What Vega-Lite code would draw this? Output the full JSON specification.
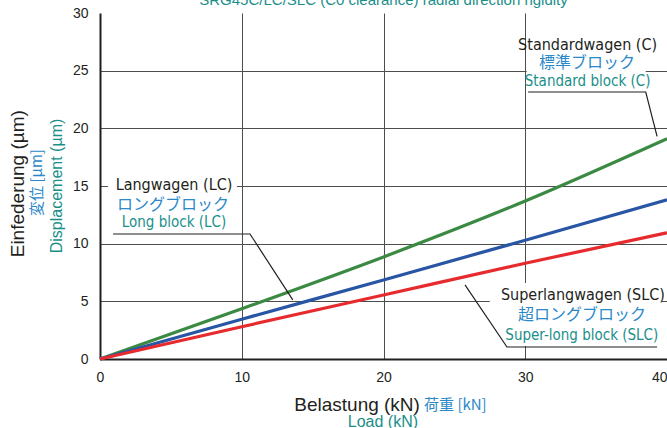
{
  "$schema": "https://vega.github.io/schema/vega-lite/v6.json",
  "width": 567,
  "height": 346,
  "autosize": "none",
  "padding": {"left": 100, "top": 13, "right": 0, "bottom": 69},
  "background": "white",
  "config": {"view": {"stroke": null}, "font": "Liberation Sans"},
  "datasets": {
    "curves": [
      {"load": 0, "disp": 0, "block": "C"},
      {"load": 10, "disp": 4.35, "block": "C"},
      {"load": 20, "disp": 8.85, "block": "C"},
      {"load": 30, "disp": 13.7, "block": "C"},
      {"load": 40, "disp": 19.1, "block": "C"},
      {"load": 0, "disp": 0, "block": "LC"},
      {"load": 10, "disp": 3.45, "block": "LC"},
      {"load": 20, "disp": 6.85, "block": "LC"},
      {"load": 30, "disp": 10.3, "block": "LC"},
      {"load": 40, "disp": 13.8, "block": "LC"},
      {"load": 0, "disp": 0, "block": "SLC"},
      {"load": 10, "disp": 2.8, "block": "SLC"},
      {"load": 20, "disp": 5.55, "block": "SLC"},
      {"load": 30, "disp": 8.3, "block": "SLC"},
      {"load": 40, "disp": 10.95, "block": "SLC"}
    ],
    "leaders": [
      {"id": "C", "ord": 1, "x": 30.2, "y": 23.15},
      {"id": "C", "ord": 2, "x": 38.5, "y": 23.15},
      {"id": "C", "ord": 3, "x": 39.3, "y": 19.3},
      {"id": "LC", "ord": 1, "x": 0.92, "y": 10.84},
      {"id": "LC", "ord": 2, "x": 10.58, "y": 10.84},
      {"id": "LC", "ord": 3, "x": 13.6, "y": 5.12},
      {"id": "SLC", "ord": 1, "x": 25.75, "y": 6.42},
      {"id": "SLC", "ord": 2, "x": 28.71, "y": 1.04},
      {"id": "SLC", "ord": 3, "x": 39.3, "y": 1.04}
    ],
    "boxes": [
      {"x1": 30.1, "x2": 38.5, "y1": 23.3, "y2": 28.3},
      {"x1": 0.56, "x2": 9.66, "y1": 10.95, "y2": 15.9},
      {"x1": 27.5, "x2": 39.65, "y1": 1.13, "y2": 6.6}
    ],
    "labels": [
      {"role": "note-de", "text": "Standardwagen (C)", "x": 34.4, "y": 27.2},
      {"role": "note-ja", "text": "標準ブロック", "x": 34.36, "y": 25.7},
      {"role": "note-en", "text": "Standard block (C)", "x": 34.4, "y": 24.1},
      {"role": "note-de", "text": "Langwagen (LC)", "x": 5.22, "y": 15.09},
      {"role": "note-ja", "text": "ロングブロック", "x": 5.15, "y": 13.35},
      {"role": "note-en", "text": "Long block (LC)", "x": 5.22, "y": 11.88},
      {"role": "note-de", "text": "Superlangwagen (SLC)", "x": 34.07, "y": 5.55},
      {"role": "note-ja", "text": "超ロングブロック", "x": 34.0, "y": 3.8},
      {"role": "note-en", "text": "Super-long block (SLC)", "x": 33.99, "y": 2.08},
      {"role": "ytitle-de", "text": "Einfederung (µm)", "x": -5.78, "y": 15.2},
      {"role": "ytitle-ja", "text": "変位 [µm]", "x": -4.44, "y": 15.3},
      {"role": "ytitle-en", "text": "Displacement (µm)", "x": -3.03, "y": 15.0},
      {"role": "xtitle-de", "text": "Belastung (kN)", "x": 22.57, "y": -4.0},
      {"role": "xtitle-ja", "text": "荷重 [kN]", "x": 22.86, "y": -4.0},
      {"role": "xtitle-en", "text": "Load (kN)", "x": 19.96, "y": -5.5},
      {"role": "top", "text": "SRG45C/LC/SLC (C0 clearance) radial direction rigidity", "x": 20, "y": 30.7}
    ]
  },
  "layer": [
    {
      "data": {"name": "boxes"},
      "mark": {"type": "rect", "color": "white", "clip": false},
      "encoding": {
        "x": {"field": "x1", "type": "quantitative", "scale": {"domain": [0, 40], "nice": false, "zero": false},
          "axis": {"title": null, "values": [0, 10, 20, 30, 40], "grid": true, "gridColor": "#4d4d4d", "gridWidth": 1,
            "gridOpacity": {"condition": {"test": "datum.value === 0 || datum.value === 40", "value": 0}, "value": 1},
            "domainColor": "#231f20", "domainWidth": 2, "ticks": false, "labelPadding": 11, "labelFontSize": 14,
            "labelColor": "#231f20", "labelFont": "Liberation Sans",
            "labelAlign": {"condition": {"test": "datum.value === 40", "value": "right"}, "value": "center"}, "zindex": 0}},
        "x2": {"field": "x2"},
        "y": {"field": "y1", "type": "quantitative", "scale": {"domain": [0, 30], "nice": false, "zero": false},
          "axis": {"title": null, "values": [0, 5, 10, 15, 20, 25, 30], "grid": true, "gridColor": "#4d4d4d", "gridWidth": 1,
            "gridOpacity": {"condition": {"test": "datum.value === 0 || datum.value === 30", "value": 0}, "value": 1},
            "domainColor": "#231f20", "domainWidth": 2, "ticks": false, "labelPadding": 12, "labelFontSize": 14,
            "labelColor": "#231f20", "labelFont": "Liberation Sans", "zindex": 0}},
        "y2": {"field": "y2"}
      }
    },
    {
      "data": {"name": "curves"},
      "mark": {"type": "line", "strokeWidth": 3.2, "interpolate": "monotone", "clip": false},
      "encoding": {
        "x": {"field": "load", "type": "quantitative"},
        "y": {"field": "disp", "type": "quantitative"},
        "color": {"field": "block", "type": "nominal", "legend": null,
          "scale": {"domain": ["C", "LC", "SLC"], "range": ["#3b8a43", "#2955a5", "#e62a2d"]}}
      }
    },
    {
      "data": {"name": "leaders"},
      "mark": {"type": "line", "color": "#231f20", "strokeWidth": 1.2, "clip": false},
      "encoding": {
        "x": {"field": "x", "type": "quantitative"},
        "y": {"field": "y", "type": "quantitative"},
        "detail": {"field": "id"},
        "order": {"field": "ord", "type": "quantitative"}
      }
    },
    {
      "data": {"name": "labels"},
      "transform": [{"filter": "datum.role === 'note-de'"}],
      "mark": {"type": "text", "font": "DejaVu Sans Condensed, Roboto", "fontSize": 16, "color": "#231f20", "baseline": "middle", "align": "center", "clip": false},
      "encoding": {"x": {"field": "x", "type": "quantitative"}, "y": {"field": "y", "type": "quantitative"}, "text": {"field": "text"}}
    },
    {
      "data": {"name": "labels"},
      "transform": [{"filter": "datum.role === 'note-ja'"}],
      "mark": {"type": "text", "font": "Noto Sans CJK JP", "fontSize": 16, "color": "#2b88c9", "baseline": "middle", "align": "center", "clip": false},
      "encoding": {"x": {"field": "x", "type": "quantitative"}, "y": {"field": "y", "type": "quantitative"}, "text": {"field": "text"}}
    },
    {
      "data": {"name": "labels"},
      "transform": [{"filter": "datum.role === 'note-en'"}],
      "mark": {"type": "text", "font": "DejaVu Sans Condensed, Roboto", "fontSize": 15, "color": "#1a8f8a", "baseline": "middle", "align": "center", "clip": false},
      "encoding": {"x": {"field": "x", "type": "quantitative"}, "y": {"field": "y", "type": "quantitative"}, "text": {"field": "text"}}
    },
    {
      "data": {"name": "labels"},
      "transform": [{"filter": "datum.role === 'ytitle-de'"}],
      "mark": {"type": "text", "fontSize": 19, "angle": 270, "color": "#231f20", "baseline": "middle", "align": "center", "clip": false},
      "encoding": {"x": {"field": "x", "type": "quantitative"}, "y": {"field": "y", "type": "quantitative"}, "text": {"field": "text"}}
    },
    {
      "data": {"name": "labels"},
      "transform": [{"filter": "datum.role === 'ytitle-ja'"}],
      "mark": {"type": "text", "font": "Noto Sans CJK JP", "fontSize": 15, "angle": 270, "color": "#2b88c9", "baseline": "middle", "align": "center", "clip": false},
      "encoding": {"x": {"field": "x", "type": "quantitative"}, "y": {"field": "y", "type": "quantitative"}, "text": {"field": "text"}}
    },
    {
      "data": {"name": "labels"},
      "transform": [{"filter": "datum.role === 'ytitle-en'"}],
      "mark": {"type": "text", "fontSize": 16, "angle": 270, "color": "#1a8f8a", "baseline": "middle", "align": "center", "clip": false},
      "encoding": {"x": {"field": "x", "type": "quantitative"}, "y": {"field": "y", "type": "quantitative"}, "text": {"field": "text"}}
    },
    {
      "data": {"name": "labels"},
      "transform": [{"filter": "datum.role === 'xtitle-de'"}],
      "mark": {"type": "text", "fontSize": 19, "color": "#231f20", "baseline": "middle", "align": "right", "clip": false},
      "encoding": {"x": {"field": "x", "type": "quantitative"}, "y": {"field": "y", "type": "quantitative"}, "text": {"field": "text"}}
    },
    {
      "data": {"name": "labels"},
      "transform": [{"filter": "datum.role === 'xtitle-ja'"}],
      "mark": {"type": "text", "font": "Noto Sans CJK JP", "fontSize": 15, "color": "#2b88c9", "baseline": "middle", "align": "left", "clip": false},
      "encoding": {"x": {"field": "x", "type": "quantitative"}, "y": {"field": "y", "type": "quantitative"}, "text": {"field": "text"}}
    },
    {
      "data": {"name": "labels"},
      "transform": [{"filter": "datum.role === 'xtitle-en'"}],
      "mark": {"type": "text", "fontSize": 16, "color": "#1a8f8a", "baseline": "middle", "align": "center", "clip": false},
      "encoding": {"x": {"field": "x", "type": "quantitative"}, "y": {"field": "y", "type": "quantitative"}, "text": {"field": "text"}}
    },
    {
      "data": {"name": "labels"},
      "transform": [{"filter": "datum.role === 'top'"}],
      "mark": {"type": "text", "fontSize": 15, "color": "#1a8f8a", "baseline": "alphabetic", "align": "center", "clip": false},
      "encoding": {"x": {"field": "x", "type": "quantitative"}, "y": {"field": "y", "type": "quantitative"}, "text": {"field": "text"}}
    }
  ]
}
